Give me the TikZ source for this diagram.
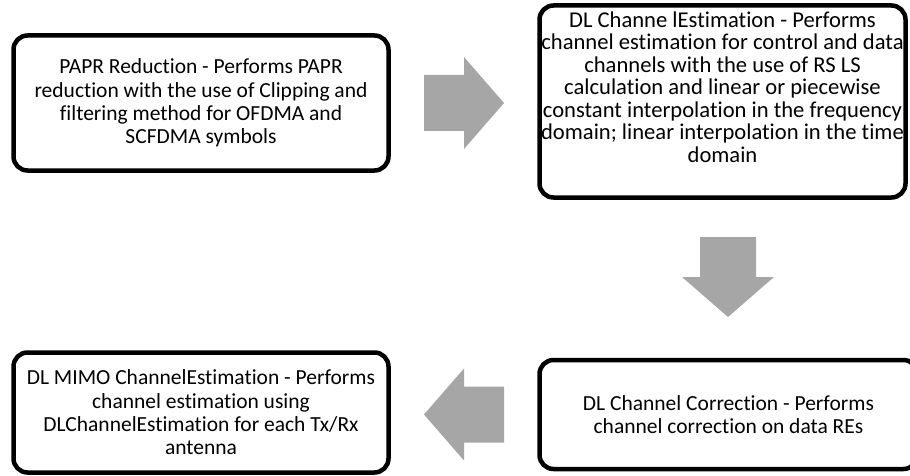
\documentclass[tikz,border=0pt]{standalone}
\usepackage{fontspec}
\setmainfont{Carlito}[Ligatures=NoCommon]
\usetikzlibrary{calc}
\definecolor{arrowgray}{HTML}{A6A6A6}
\tikzset{
  stepbox/.style={draw, line width=4.5pt, rounded corners=14pt, align=center, inner sep=0pt, font=\fontsize{21.5}{23.3}\selectfont},
  blockarrow/.pic={\fill[arrowgray] (-40,-28) -- (0,-28) -- (0,-46) -- (40,0) -- (0,46) -- (0,28) -- (-40,28) -- cycle;}
}

\begin{document}
\begin{tikzpicture}[x=1pt, y=-1pt]
      \useasboundingbox (0,0) rectangle (910,476);

      \node[stepbox, minimum width=375pt, minimum height=135pt] (papr) at (201,103) {PAPR Reduction - Performs PAPR\\reduction with the use of Clipping and\\filtering method for OFDMA and\\SCFDMA symbols};
      \node[stepbox, minimum width=366pt, minimum height=192pt, font=\fontsize{22.6}{22.5}\selectfont] (dlest) at (722.5,101.5) {\raisebox{11pt}[\height][\depth]{\begin{tabular}{@{}c@{}}DL Channe lEstimation - Performs\\channel estimation for control and data\\channels with the use of RS LS\\calculation and linear or piecewise\\constant interpolation in the frequency\\domain; linear interpolation in the time\\domain\end{tabular}}};
      \node[stepbox, minimum width=378pt, minimum height=109pt] (corr) at (728.5,414.5) {DL Channel Correction - Performs\\channel correction on data REs};
      \node[stepbox, minimum width=375pt, minimum height=120pt] (mimo) at (201,412.5) {DL MIMO ChannelEstimation - Performs\\channel estimation using\\DLChannelEstimation for each Tx/Rx\\antenna};

      \pic at ($(papr.east)!0.5!(dlest.west |- papr.east)$) {blockarrow};
      \pic[rotate=-90] at (728,277) {blockarrow};
      \pic[rotate=180] at ($(mimo.east |- corr.west)!0.5!(corr.west)$) {blockarrow};
    \end{tikzpicture}
\end{document}
